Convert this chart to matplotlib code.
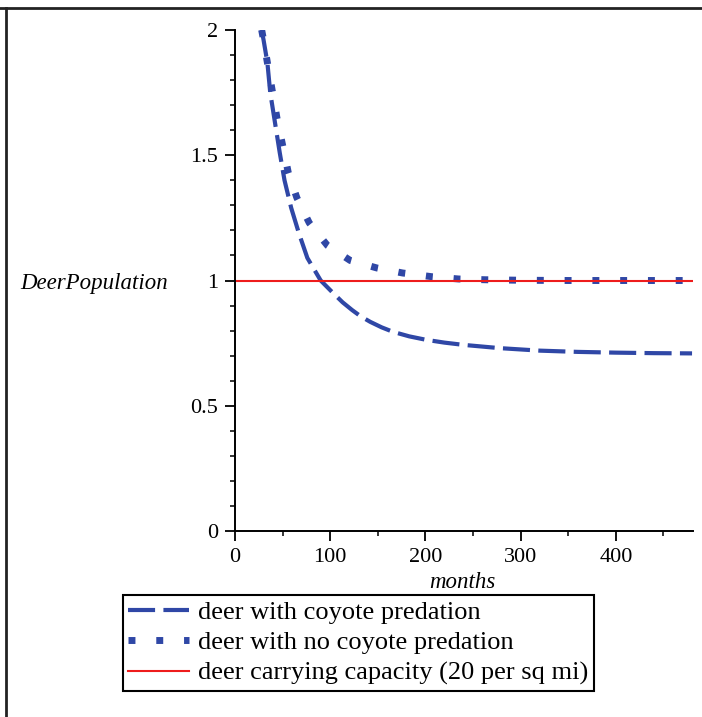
import matplotlib.pyplot as plt
from matplotlib.lines import Line2D
from matplotlib.ticker import MultipleLocator

# deer population (relative to carrying capacity) over months
months_coyote = [28, 30, 34, 37, 42, 47, 52, 59, 67, 76, 90, 103, 113, 123,
                 132, 142, 154, 166, 183, 201, 220, 240, 278, 320, 360, 400,
                 440, 480]
deer_coyote = [2.0, 1.96, 1.87, 1.75, 1.63, 1.51, 1.40, 1.29, 1.19, 1.09,
               1.0, 0.95, 0.913, 0.882, 0.857, 0.835, 0.813, 0.795, 0.777,
               0.763, 0.752, 0.743, 0.73, 0.72, 0.715, 0.712, 0.71, 0.709]

months_free = [28, 30, 34, 39, 44, 50, 56, 65, 78, 97, 121, 149, 176, 207,
               235, 263, 300, 350, 400, 480]
deer_free = [2.0, 1.96, 1.87, 1.76, 1.65, 1.54, 1.43, 1.33, 1.23, 1.14, 1.08,
             1.05, 1.03, 1.015, 1.006, 1.003, 1.001, 1.0, 1.0, 1.0]

capacity_months = [0, 481]
capacity = [1, 1]

labels = ['deer with coyote predation',
          'deer with no coyote predation',
          'deer carrying capacity (20 per sq mi)']
xticks = [0, 100, 200, 300, 400]
yticks = [0, 0.5, 1, 1.5, 2]
ytick_labels = ['0', '0.5', '1', '1.5', '2']

plt.rcParams['font.family'] = ['Liberation Serif', 'DejaVu Serif']

W, H = 702, 717
fig = plt.figure(figsize=(W / 100, H / 100), dpi=100)
ax = fig.add_axes([235 / W, 1 - 531 / H, 458 / W, 501 / H])

blue = '#2f47a6'
ax.plot(months_coyote, deer_coyote, color=blue, lw=3.0,
        linestyle=(0, (6.5, 2.0)), label=labels[0])
ax.plot(months_free, deer_free, color=blue, lw=5.0,
        linestyle=(0, (1, 3)), dash_capstyle='butt', label=labels[1])
ax.plot(capacity_months, capacity, color='#ee1c1c', lw=1.5, label=labels[2])

ax.set_xlim(0, 481)
ax.set_ylim(0, 2)
ax.set_xticks(xticks)
ax.set_yticks(yticks)
ax.set_yticklabels(ytick_labels)
ax.xaxis.set_minor_locator(MultipleLocator(50))
ax.yaxis.set_minor_locator(MultipleLocator(0.1))
ax.tick_params(which='major', length=7, width=1.3, labelsize=16, pad=5)
ax.tick_params(which='minor', length=3.5, width=1.1)
for side in ('top', 'right'):
    ax.spines[side].set_visible(False)
for side in ('left', 'bottom'):
    ax.spines[side].set_linewidth(1.4)

fig.text(20 / W, 1 - 283 / H, 'DeerPopulation', style='italic',
         fontsize=16.5, ha='left', va='center')
fig.text(462 / W, 1 - 582 / H, 'months', style='italic',
         fontsize=16.5, ha='center', va='center')

leg = fig.legend(loc='upper left', bbox_to_anchor=(123 / W, 1 - 595 / H),
                 borderaxespad=0, fontsize=19, handlelength=2.3,
                 handletextpad=0.35, labelspacing=0.27, borderpad=0.2,
                 fancybox=False, framealpha=1, edgecolor='black')
leg.get_frame().set_linewidth(1.5)

# outer frame: top and left edges only
fig.add_artist(Line2D([0, 1], [1 - 8 / H, 1 - 8 / H], color='#222222',
                      lw=2, transform=fig.transFigure))
fig.add_artist(Line2D([5.5 / W, 5.5 / W], [0, 1 - 8 / H], color='#222222',
                      lw=2, transform=fig.transFigure))

fig.savefig('out.png', dpi=100)
